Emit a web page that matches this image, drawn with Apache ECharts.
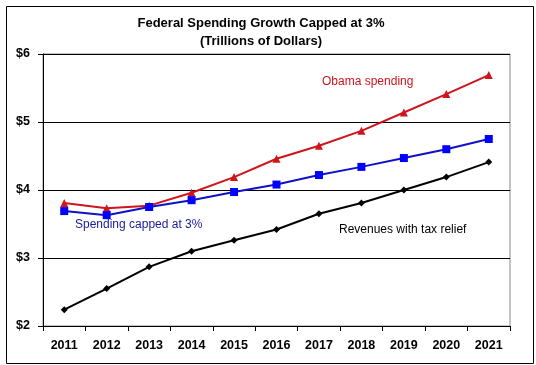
<!DOCTYPE html>
<html><head><meta charset="utf-8">
<script src="https://cdn.jsdelivr.net/npm/echarts@6/dist/echarts.min.js"></script>
<style>html,body{margin:0;padding:0;background:#fff}#c{width:536px;height:365px}</style>
</head><body><div id="c"></div>
<script>
const years = ['2011','2012','2013','2014','2015','2016','2017','2018','2019','2020','2021'];
const obamaSpending = [3.81,3.73,3.77,3.96,4.19,4.46,4.65,4.87,5.14,5.41,5.69];
const cappedSpending = [3.69,3.63,3.75,3.85,3.97,4.08,4.22,4.34,4.47,4.60,4.75];
const revenues = [2.24,2.55,2.87,3.10,3.26,3.42,3.65,3.81,4.00,4.19,4.41];
const yTicks = ['$2','$3','$4','$5','$6'];

const font = '"Liberation Sans", Arial, sans-serif';
const chart = echarts.init(document.getElementById('c'));
chart.setOption({
  animation:false,
  backgroundColor:'#fff',
  title:{
    text:'Federal Spending Growth Capped at 3%\n(Trillions of Dollars)',
    left:256, top:9, textAlign:'center',
    textStyle:{fontFamily:font,fontSize:13,fontWeight:'bold',color:'#000',lineHeight:18}
  },
  grid:{left:43,right:26,top:54,bottom:39,show:true,borderColor:'#888',borderWidth:1,backgroundColor:'transparent'},
  xAxis:{
    type:'category', data:years, boundaryGap:true,
    axisLine:{lineStyle:{color:'#000',width:1}},
    axisTick:{show:true,length:5,lineStyle:{color:'#000'}},
    axisLabel:{fontFamily:font,fontSize:12.5,fontWeight:'bold',color:'#000',margin:13},
    splitLine:{show:false}
  },
  yAxis:{
    type:'value', min:2, max:6, interval:1,
    axisLine:{show:true,lineStyle:{color:'#000',width:1}},
    axisTick:{show:true,length:5,lineStyle:{color:'#000'}},
    axisLabel:{fontFamily:font,fontSize:12.5,fontWeight:'bold',color:'#000',margin:13,
      formatter:v=>yTicks[Math.round(v)-2]},
    splitLine:{show:true,lineStyle:{color:'#000',width:1}}
  },
  series:[
    {name:'Obama spending',type:'line',data:obamaSpending,symbol:'triangle',symbolSize:8,
      lineStyle:{color:'#d0141c',width:2},itemStyle:{color:'#d0141c'}},
    {name:'Spending capped at 3%',type:'line',data:cappedSpending,symbol:'rect',symbolSize:8,
      lineStyle:{color:'#1010c8',width:2},itemStyle:{color:'#0000ff'}},
    {name:'Revenues with tax relief',type:'line',data:revenues,symbol:'diamond',symbolSize:7,
      lineStyle:{color:'#000',width:2},itemStyle:{color:'#000'}}
  ],
  graphic:[
    {type:'rect',left:4,top:4,shape:{width:527,height:357},style:{fill:'none',stroke:'#000',lineWidth:1},silent:true,z:-1},
    {type:'text',left:322,top:76,style:{text:'Obama spending',fill:'#d0141c',font:'12px '+font}},
    {type:'text',left:75,top:219,style:{text:'Spending capped at 3%',fill:'#1a1a9a',font:'12px '+font}},
    {type:'text',left:339,top:224,style:{text:'Revenues with tax relief',fill:'#000',font:'12px '+font}}
  ]
});
</script></body></html>
